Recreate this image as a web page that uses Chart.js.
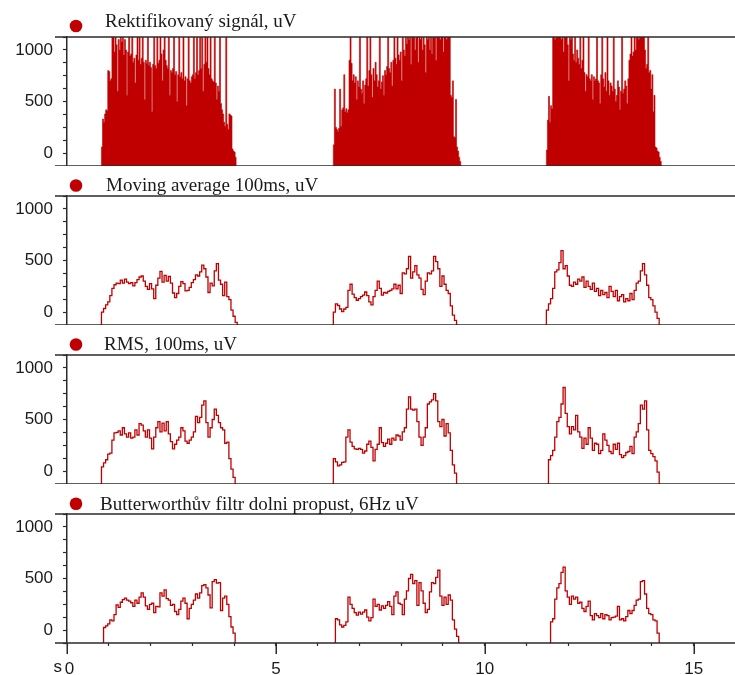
<!DOCTYPE html>
<html>
<head>
<meta charset="utf-8">
<script src="https://cdn.jsdelivr.net/npm/chart.js@4.4.1/dist/chart.umd.min.js"></script>
<style>
  html, body { margin: 0; padding: 0; background: #fff; }
  #wrap { position: relative; width: 735px; height: 675px; overflow: hidden; }
  #wrap canvas { position: absolute; left: 0; }
</style>
</head>
<body>
<div id="wrap">
  <canvas id="c0" width="735" height="159" style="top:7px"></canvas>
  <canvas id="c1" width="735" height="159" style="top:166px"></canvas>
  <canvas id="c2" width="735" height="159" style="top:325px"></canvas>
  <canvas id="c3" width="735" height="191" style="top:484px"></canvas>
</div>
<script>
// Panel titles
const titles = [
  'Rektifikovaný signál, uV',
  'Moving average 100ms, uV',
  'RMS, 100ms, uV',
  'Butterworthův filtr dolni propust, 6Hz uV'
];

// Axis ranges (seconds / uV)
const X_MIN = 0, X_MAX = 15.99;
const Y_MIN = -125, Y_MAX = 1125;
const yLabels = [0, 500, 1000];
const xLabels = [0, 5, 10, 15];

// Sampling steps of the traced values (s)
const RECT_STEP = 0.025;
const SMOOTH_STEP = 0.05;

// Start time of each burst (s)
const rectStarts = [0.80, 6.35, 11.45];
const maStarts = [0.80, 6.35, 11.45];
const rmsStarts = [0.80, 6.35, 11.50];
const butterStarts = [0.85, 6.40, 11.55];

// Rectified signal, uV (values above the axis top are clipped)
const rectified = [
  [-125, 60, 330, 300, 380, 420, 410, 800, 790, 700, 720, 1200, 1150, 980, 1200, 1050,
   600, 1100, 1000, 1200, 1080, 1200, 950, 1100, 1000, 560, 980, 1200, 940, 960, 1200, 880,
   920, 680, 950, 1200, 900, 1200, 860, 920, 1200, 880, 520, 900, 870, 1200, 850, 880,
   830, 400, 860, 1200, 850, 820, 1200, 870, 900, 1200, 960, 700, 1000, 1200, 900, 850,
   820, 1200, 560, 800, 780, 820, 1200, 760, 790, 500, 760, 1200, 740, 780, 720, 1200,
   700, 740, 460, 720, 1200, 700, 680, 740, 760, 1200, 720, 780, 1200, 760, 800, 1200,
   820, 1200, 600, 860, 1200, 880, 1200, 820, 760, 1200, 720, 700, 690, 1200, 680, 520,
   650, 600, 1200, 480, 420, 380, 300, 260, 1200, 280, 230, 380, 370, 360, 40, 20,
   10, -40, -125],
  [-125, 80, 620, 250, 230, 210, 240, 620, 260, 420, 440, 760, 400, 430, 390, 420,
   900, 1200, 870, 700, 760, 680, 740, 520, 700, 640, 1200, 620, 580, 700, 480, 660,
   720, 1200, 650, 800, 1200, 760, 540, 820, 700, 880, 760, 640, 700, 1200, 620, 690,
   750, 560, 800, 760, 840, 1200, 820, 780, 880, 650, 900, 1200, 920, 860, 1200, 950,
   900, 980, 700, 1200, 1000, 940, 1200, 1060, 1200, 1100, 1200, 860, 1200, 1150, 1200, 1000,
   1120, 1200, 880, 1200, 1100, 1200, 1000, 1200, 1050, 780, 1200, 1100, 1200, 1000, 1200, 960,
   1200, 1120, 1200, 900, 1200, 1150, 1200, 1100, 1200, 1200, 980, 1200, 1200, 1100, 1200, 1200,
   1200, 560, 540, 700, 160, 150, 520, 60, 20, -40, -80, -125, -125],
  [-125, 30, 320, 550, 300, 460, 430, 1200, 1200, 1100, 1200, 1200, 1150, 1200, 1200, 1100,
   1200, 980, 1200, 1150, 1200, 1050, 700, 1200, 1100, 1200, 960, 900, 1200, 880, 1000, 920,
   860, 1200, 820, 900, 1200, 780, 600, 760, 740, 1200, 720, 700, 760, 520, 740, 700,
   720, 1200, 700, 680, 480, 760, 1200, 720, 640, 780, 600, 1200, 700, 560, 680, 650,
   600, 1200, 620, 500, 560, 700, 640, 420, 600, 1200, 580, 620, 700, 650, 480, 720,
   900, 960, 1200, 940, 980, 1200, 1000, 1200, 1200, 1100, 1200, 1200, 1150, 1200, 1200, 1000,
   820, 860, 1200, 780, 800, 620, 760, 400, 560, 60, 50, 20, 10, -40, -80, -125,
   -125]
];

// Moving average 100 ms, uV
const movingAvg = [
  [-125, 0, 35, 70, 100, 160, 230, 265, 280, 275, 310, 280, 320, 290, 275, 285,
   255, 285, 315, 340, 350, 300, 250, 220, 275, 225, 130, 260, 330, 395, 290, 355,
   300, 345, 280, 185, 140, 180, 250, 295, 275, 205, 210, 240, 285, 315, 360, 350,
   390, 455, 420, 340, 190, 280, 255, 400, 470, 310, 270, 160, 290, 150, 120, 20,
   -40, -100, -125],
  [-125, 0, 80, 64, 30, 5, 30, 45, 210, 270, 175, 140, 115, 130, 150, 165,
   195, 160, 100, 70, 150, 210, 300, 230, 165, 190, 185, 200, 210, 225, 270, 225,
   260, 180, 380, 370, 420, 540, 330, 390, 450, 360, 330, 220, 170, 300, 380, 370,
   400, 540, 490, 420, 250, 350, 270, 210, 180, 60, -30, -80, -125],
  [-125, 20, 80, 130, 230, 390, 410, 480, 595, 420, 450, 350, 260, 250, 290, 270,
   320, 300, 340, 240, 300, 250, 220, 280, 200, 230, 160, 210, 170, 190, 140, 250,
   200, 150, 210, 110, 150, 170, 100, 130, 110, 180, 120, 210, 280, 300, 400, 470,
   360, 260, 140, 120, 60, 0, -60, -125]
];

// RMS 100 ms, uV
const rms = [
  [-125, 40, 80, 110, 165, 175, 300, 370, 375, 390, 350, 420, 360, 330, 370, 320,
   330, 400, 350, 460, 445, 390, 330, 400, 320, 215, 330, 420, 480, 380, 465, 390,
   480, 360, 285, 215, 260, 300, 330, 420, 390, 290, 270, 300, 330, 380, 530, 470,
   520, 640, 680, 470, 330, 420, 500, 600, 540, 470, 420, 400, 270, 280, 120, 20,
   -60, -125],
  [-125, 120, 90, 50, 60, 85, 90, 330, 400, 280, 240, 215, 210, 220, 210, 175,
   195, 260, 290, 230, 100, 210, 260, 420, 275, 240, 270, 310, 260, 320, 300, 350,
   340, 300, 380, 420, 600, 720, 600, 590, 600, 480, 330, 250, 330, 420, 650, 670,
   690, 750, 680, 480, 430, 500, 340, 460, 370, 200, 60, -20, -125],
  [-125, 110, 150, 200, 330, 480, 520, 650, 810, 560, 430, 360, 430, 400, 540, 380,
   330, 220, 320, 260, 420, 320, 200, 270, 260, 170, 200, 360, 300, 250, 190, 170,
   260, 210, 270, 160, 130, 150, 180, 190, 240, 170, 330, 380, 460, 640, 600, 680,
   400, 200, 170, 140, 100, -10, -125]
];

// Butterworth low-pass 6 Hz, uV
const butter = [
  [-125, 25, 40, 60, 100, 90, 150, 245, 220, 270, 295, 310, 290, 280, 265, 230,
   290, 260, 320, 360, 320, 235, 200, 250, 260, 170, 230, 225, 360, 330, 390, 305,
   290, 240, 250, 180, 150, 200, 280, 310, 260, 110, 210, 250, 290, 350, 310, 360,
   430, 440, 410, 340, 215, 470, 490, 455, 460, 190, 310, 330, 250, 130, 30, -30,
   -125],
  [-125, 110, 100, 50, 30, 45, 80, 320, 250, 210, 170, 145, 175, 155, 175, 195,
   125, 90, 120, 300, 230, 250, 195, 235, 210, 240, 275, 230, 150, 330, 370, 260,
   250, 150, 300, 380, 500, 540, 450, 480, 240, 460, 380, 260, 170, 200, 370, 460,
   450, 510, 580, 330, 240, 320, 250, 340, 290, 100, 10, -60, -125],
  [-125, 80, 110, 300, 410, 450, 560, 610, 380, 320, 250, 330, 300, 320, 260, 270,
   210, 180, 230, 280, 140, 100, 160, 140, 120, 160, 110, 150, 140, 100, 120, 125,
   135, 230, 100, 110, 90, 130, 190, 160, 190, 240, 290, 300, 470, 480, 350, 210,
   160, 150, 100, 90, -30, -125]
];

const RED = '#c00000';
const AXIS = '#2b2b2b';
const TEXT = '#1a1a1a';

function toPoints(bursts, starts, step) {
  const pts = [];
  bursts.forEach((vals, b) => {
    vals.forEach((v, i) => pts.push({ x: starts[b] + i * step, y: v }));
    pts.push({ x: starts[b] + vals.length * step, y: null });
  });
  return pts;
}

// Frame lines, panel title with dot, long major ticks on the time axis
const framePlugin = {
  id: 'frame',
  afterDraw(chart, args, opts) {
    const { ctx, chartArea } = chart;
    ctx.save();
    ctx.strokeStyle = AXIS;
    ctx.lineWidth = 1.5;
    ctx.beginPath();
    ctx.moveTo(55, chartArea.top);
    ctx.lineTo(chart.width, chartArea.top);
    ctx.moveTo(55, chartArea.bottom);
    ctx.lineTo(chart.width, chartArea.bottom);
    ctx.stroke();

    ctx.fillStyle = RED;
    ctx.beginPath();
    ctx.arc(76, chartArea.top - opts.dotOff, 6.3, 0, Math.PI * 2);
    ctx.fill();
    ctx.fillStyle = TEXT;
    ctx.font = '19px "Liberation Serif", "Times New Roman", serif';
    ctx.textBaseline = 'alphabetic';
    ctx.textAlign = 'left';
    ctx.fillText(opts.text, opts.textX, chartArea.top - opts.baseOff);

    if (opts.timeAxis) {
      const xs = chart.scales.x;
      ctx.lineWidth = 1.5;
      ctx.beginPath();
      xLabels.forEach(v => {
        const px = Math.round(xs.getPixelForValue(v)) + 0.25;
        ctx.moveTo(px, chartArea.bottom);
        ctx.lineTo(px, chartArea.bottom + 11);
      });
      ctx.stroke();
      ctx.font = '17px "Liberation Sans", Arial, sans-serif';
      ctx.textBaseline = 'top';
      ctx.textAlign = 'right';
      ctx.fillText('s', 62, chartArea.bottom + 16);
    }
    ctx.restore();
  }
};

const panels = [
  { canvas: 'c0', data: toPoints(rectified, rectStarts, RECT_STEP), filled: true, dotOff: 11, baseOff: 10, textX: 105 },
  { canvas: 'c1', data: toPoints(movingAvg, maStarts, SMOOTH_STEP), filled: false, dotOff: 10.5, baseOff: 5.5, textX: 106 },
  { canvas: 'c2', data: toPoints(rms, rmsStarts, SMOOTH_STEP), filled: false, dotOff: 10.5, baseOff: 5.5, textX: 104 },
  { canvas: 'c3', data: toPoints(butter, butterStarts, SMOOTH_STEP), filled: false, dotOff: 10.2, baseOff: 4, textX: 100 }
];

const tickFont = { family: '"Liberation Sans", Arial, sans-serif', size: 17 };

panels.forEach((p, idx) => {
  const isLast = idx === panels.length - 1;
  const dataset = p.filled
    ? { data: p.data, borderColor: RED, borderWidth: 0.6, backgroundColor: RED, fill: 'start', stepped: true, pointRadius: 0, spanGaps: false }
    : { data: p.data, borderColor: RED, borderWidth: 1.3, fill: false, pointRadius: 0, stepped: 'middle', spanGaps: false };

  new Chart(document.getElementById(p.canvas), {
    type: 'line',
    data: { datasets: [dataset] },
    options: {
      responsive: false,
      animation: false,
      devicePixelRatio: 1,
      layout: { padding: { top: 30, left: 0, right: 0, bottom: 0 } },
      plugins: {
        legend: { display: false },
        tooltip: { enabled: false },
        frame: { text: titles[idx], dotOff: p.dotOff, baseOff: p.baseOff, textX: p.textX, timeAxis: isLast }
      },
      scales: {
        x: {
          type: 'linear',
          min: X_MIN,
          max: X_MAX,
          display: isLast,
          border: { display: false },
          grid: { drawOnChartArea: false, tickLength: 3, tickColor: AXIS, tickWidth: 1.2 },
          ticks: {
            stepSize: 1, autoSkip: false, includeBounds: false, maxTicksLimit: 100, maxRotation: 0,
            padding: 13, color: TEXT, font: tickFont,
            // leading space nudges the "0" right of the axis, as in the original
            callback: v => v === 0 ? ' 0' : (xLabels.includes(v) ? String(v) : '')
          },
          afterFit: s => {
            s.paddingLeft = 0;
            s.paddingRight = 0;
            if (isLast) s.height = 32;
          }
        },
        y: {
          min: Y_MIN,
          max: Y_MAX,
          border: { display: true, color: AXIS, width: 1.5 },
          grid: { drawOnChartArea: false, tickLength: 4, tickColor: AXIS, tickWidth: 1.2 },
          ticks: {
            stepSize: 125, autoSkip: false, maxTicksLimit: 100,
            padding: 10, color: TEXT, font: tickFont,
            callback: v => yLabels.includes(v) ? String(v) : ''
          },
          afterFit: s => {
            s.width = 67;
            s.paddingTop = 0;
            s.paddingBottom = 0;
          }
        }
      }
    },
    plugins: [framePlugin]
  });
});
</script>
</body>
</html>
